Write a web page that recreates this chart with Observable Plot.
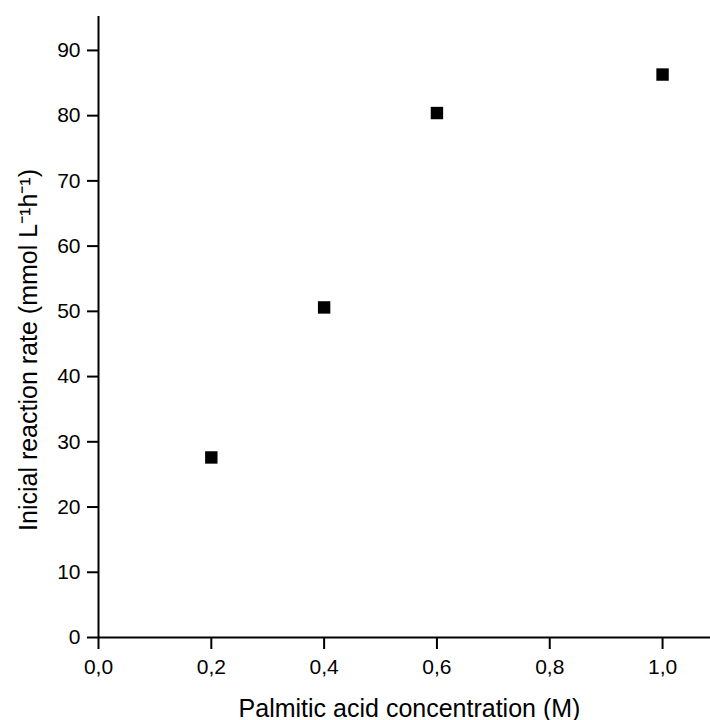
<!DOCTYPE html>
<html>
<head>
<meta charset="utf-8">
<script src="https://cdn.jsdelivr.net/npm/d3@7"></script>
<script src="https://cdn.jsdelivr.net/npm/@observablehq/plot@0.6"></script>
<style>
  html, body { margin: 0; padding: 0; background: #fff; }
  #chart svg text { fill: #000; }
  #chart svg g[aria-label="x-axis tick label"] text,
  #chart svg g[aria-label="y-axis tick label"] text { font-size: 21px; }
</style>
</head>
<body>
<div id="chart"></div>
<script>
const concentration = [0.2, 0.4, 0.6, 1.0];
const rate = [27.6, 50.6, 80.4, 86.3];
const xTicks = [0, 0.2, 0.4, 0.6, 0.8, 1.0];
const yTicks = [0, 10, 20, 30, 40, 50, 60, 70, 80, 90];
const xLabel = "Palmitic acid concentration (M)";
const yLabel = "Inicial reaction rate (mmol L\u207B\u00B9h\u207B\u00B9)";

const data = concentration.map((c, i) => ({c, r: rate[i]}));

const chart = Plot.plot({
  width: 710,
  height: 720,
  marginLeft: 98,
  marginTop: 16,
  marginBottom: 83,
  marginRight: 0,
  x: {domain: [0, 1.085]},
  y: {domain: [0, 95.2]},
  style: {fontFamily: "'Liberation Sans', Arial, sans-serif", fontSize: "20px", color: "#000", background: "#fff"},
  marks: [
    Plot.axisX({ticks: xTicks, tickSize: 12, tickPadding: 10, strokeWidth: 2,
      tickFormat: d => d.toFixed(1).replace(".", ","), fontSize: 21, label: null}),
    Plot.axisY({ticks: yTicks, tickSize: 11, tickPadding: 7, strokeWidth: 2, fontSize: 21, label: null}),
    Plot.ruleY([0], {strokeWidth: 2}),
    Plot.ruleX([0], {strokeWidth: 2}),
    Plot.dot(data, {x: "c", y: "r", symbol: "square", r: 7, fill: "#000", stroke: "none"}),
    Plot.text([xLabel], {frameAnchor: "bottom", textAnchor: "middle", lineAnchor: "middle", dy: 71, dx: 5, fontSize: 25, fill: "#000"}),
    Plot.text([yLabel], {frameAnchor: "left", textAnchor: "middle", rotate: -90, lineAnchor: "middle", dx: -69.5, dy: 23, fontSize: 25, fill: "#000"})
  ]
});
document.getElementById("chart").appendChild(chart);
</script>
</body>
</html>
